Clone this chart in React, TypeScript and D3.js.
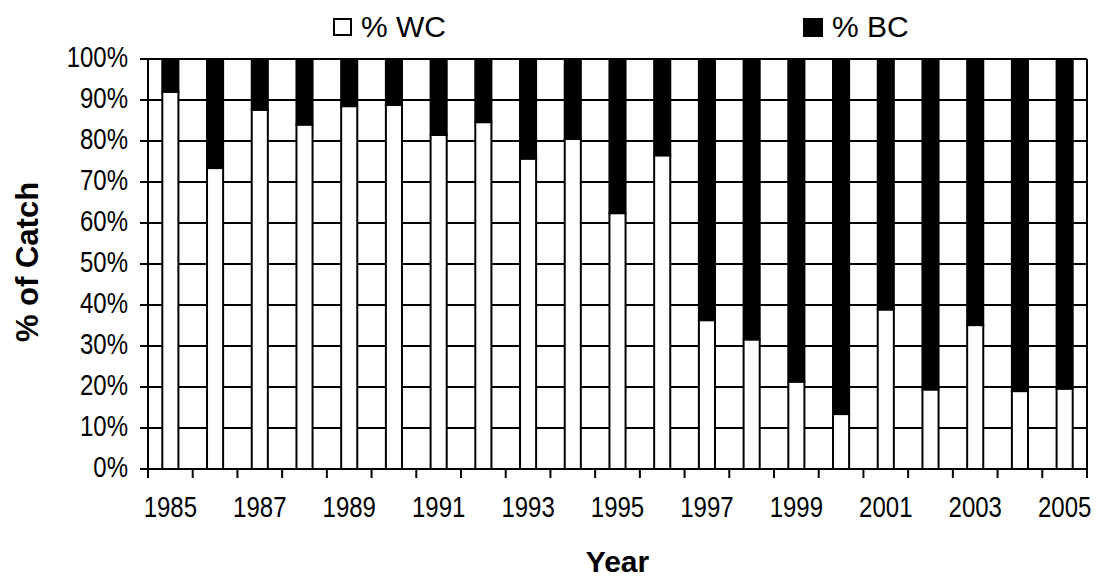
import React from "react";
import * as d3 from "d3";

const years = [1985, 1986, 1987, 1988, 1989, 1990, 1991, 1992, 1993, 1994, 1995, 1996, 1997, 1998, 1999, 2000, 2001, 2002, 2003, 2004, 2005];
const wcPct = [92, 73.4, 87.6, 84, 88.5, 88.8, 81.5, 84.6, 75.7, 80.5, 62.4, 76.5, 36.3, 31.6, 21.3, 13.4, 38.9, 19.4, 35.1, 19, 19.6];
const bcPct = [8, 26.6, 12.4, 16, 11.5, 11.2, 18.5, 15.4, 24.3, 19.5, 37.6, 23.5, 63.7, 68.4, 78.7, 86.6, 61.1, 80.6, 64.9, 81, 80.4];
const seriesNames = ["% WC", "% BC"];
const seriesColors = ["#ffffff", "#000000"];
const yTicks = [0, 10, 20, 30, 40, 50, 60, 70, 80, 90, 100];
const xLabelYears = [1985, 1987, 1989, 1991, 1993, 1995, 1997, 1999, 2001, 2003, 2005];

const W = 1097;
const H = 577;
const left = 148;
const right = 1087;
const top = 59;
const bottom = 469;
const FONT = "'Liberation Sans', Arial, sans-serif";

export default function App() {
  const x = d3.scaleBand<number>().domain(years).range([left, right]).padding(0);
  const y = d3.scaleLinear().domain([0, 100]).range([bottom, top]);
  const rows = years.map((yr, i) => ({ year: yr, wc: wcPct[i], bc: bcPct[i] }));
  const stack = d3.stack<any>().keys(["wc", "bc"]);
  const layers = stack(rows);
  const bw = x.bandwidth() * 0.36;

  return (
    <svg width={W} height={H} style={{ position: "absolute", left: 0, top: 0, background: "#fff" }} fontFamily={FONT}>
      <rect x={0} y={0} width={W} height={H} fill="#fff" />
      {/* gridlines */}
      {yTicks.map((t) => (
        <line key={"g" + t} x1={left} x2={right} y1={y(t)} y2={y(t)} stroke="#000" strokeWidth={2} />
      ))}
      {/* right border */}
      <line x1={right} x2={right} y1={top} y2={bottom} stroke="#000" strokeWidth={2} />
      {/* bars */}
      {layers.map((layer, li) =>
        layer.map((d, i) => {
          const cx = (x(years[i]) as number) + x.bandwidth() / 2;
          return (
            <rect
              key={li + "-" + i}
              x={cx - bw / 2}
              y={y(d[1])}
              width={bw}
              height={y(d[0]) - y(d[1])}
              fill={seriesColors[li]}
              stroke="#000"
              strokeWidth={2}
            />
          );
        })
      )}
      {/* axes */}
      <line x1={left} x2={left} y1={top - 1} y2={bottom + 1} stroke="#000" strokeWidth={2} />
      <line x1={left - 1} x2={right + 1} y1={bottom} y2={bottom} stroke="#000" strokeWidth={2} />
      {yTicks.map((t) => (
        <g key={"yt" + t}>
          <line x1={left - 8} x2={left} y1={y(t)} y2={y(t)} stroke="#000" strokeWidth={2} />
          <text
            transform={`translate(${128},${y(t) + 8}) scale(1,1.2)`}
            textAnchor="end"
            fontSize={24}
            fill="#000"
          >
            {t + "%"}
          </text>
        </g>
      ))}
      {years.map((yr) => (
        <line key={"xt" + yr} x1={x(yr)} x2={x(yr)} y1={bottom} y2={bottom + 9} stroke="#000" strokeWidth={2} />
      ))}
      <line x1={right} x2={right} y1={bottom} y2={bottom + 9} stroke="#000" strokeWidth={2} />
      {xLabelYears.map((yr) => (
        <text
          key={"xl" + yr}
          transform={`translate(${(x(yr) as number) + x.bandwidth() / 2},${517}) scale(1,1.2)`}
          textAnchor="middle"
          fontSize={24}
          fill="#000"
        >
          {yr}
        </text>
      ))}
      {/* axis titles */}
      <text x={(left + right) / 2} y={572} textAnchor="middle" fontSize={30} fontWeight="bold" fill="#000">
        Year
      </text>
      <text
        transform={`translate(${38},${(top + bottom) / 2 - 2}) rotate(-90)`}
        textAnchor="middle"
        fontSize={31}
        fontWeight="bold"
        fill="#000"
      >
        % of Catch
      </text>
      {/* legend */}
      <rect x={334} y={19} width={17} height={16} fill={seriesColors[0]} stroke="#000" strokeWidth={2} />
      <text x={361} y={37} fontSize={30} fill="#000">{seriesNames[0]}</text>
      <rect x={804} y={19} width={18} height={17} fill={seriesColors[1]} stroke="#000" strokeWidth={2} />
      <text x={832} y={37} fontSize={30} fill="#000">{seriesNames[1]}</text>
    </svg>
  );
}
